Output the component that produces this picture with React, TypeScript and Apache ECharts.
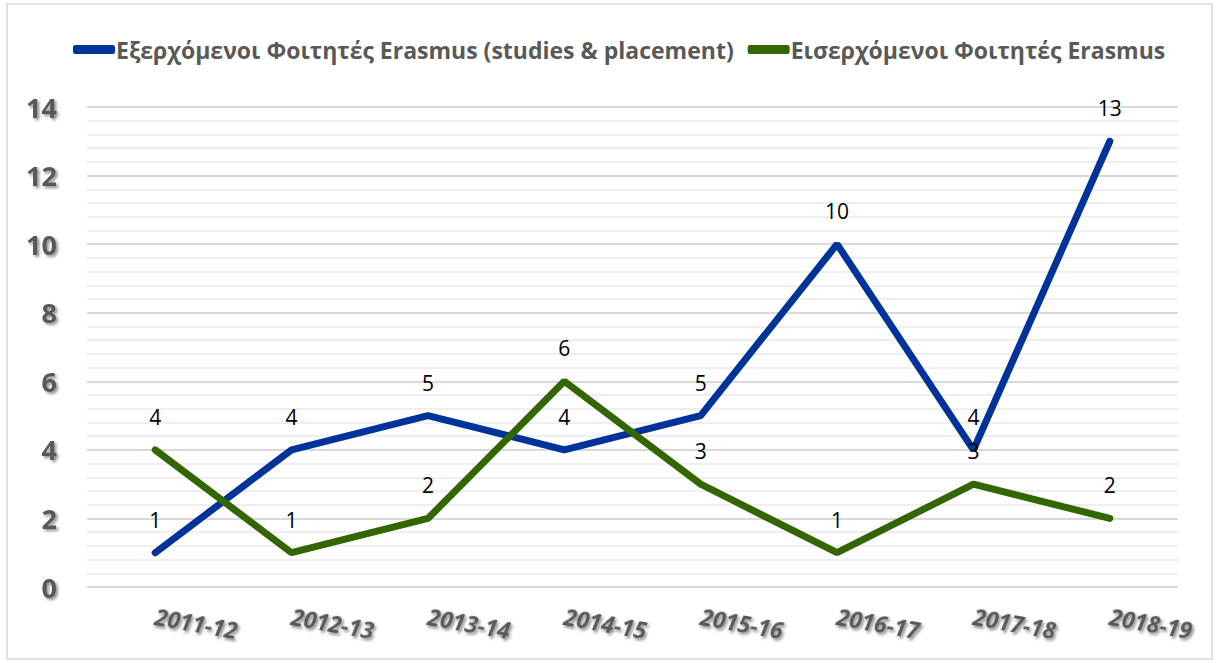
import React, { useEffect, useRef } from "react";
import * as echarts from "echarts";

const categories = ["2011-12", "2012-13", "2013-14", "2014-15", "2015-16", "2016-17", "2017-18", "2018-19"];
const outgoing = [1, 4, 5, 4, 5, 10, 4, 13];
const incoming = [4, 1, 2, 6, 3, 1, 3, 2];
const seriesNames = ["Εξερχόμενοι Φοιτητές Erasmus (studies & placement)", "Εισερχόμενοι Φοιτητές Erasmus"];

const FONT = "'Open Sans', sans-serif";
const shadow = {
  textShadowColor: "rgba(0,0,0,0.45)",
  textShadowBlur: 3,
  textShadowOffsetX: 2,
  textShadowOffsetY: 2,
};

export default function App() {
  const ref = useRef<HTMLDivElement>(null);
  useEffect(() => {
    document.body.style.margin = "0";
    const chart = echarts.init(ref.current!, null, { renderer: "svg" });
    const mkSeries = (name: string, data: number[], color: string) => ({
      name,
      type: "line",
      data,
      symbol: "circle",
      symbolSize: 1,
      itemStyle: { color },
      lineStyle: { color, width: 7, cap: "round" },
      label: {
        show: true,
        position: "top",
        distance: 22,
        color: "#000",
        fontSize: 21,
        fontFamily: FONT,
      },
    });
    chart.setOption({
      animation: false,
      backgroundColor: "#fff",
      legend: {
        left: 68,
        top: 33,
        itemWidth: 42,
        itemHeight: 9,
        itemGap: 14,
        icon: "roundRect",
        textStyle: { color: "#595959", fontSize: 23, fontWeight: "bold", fontFamily: FONT, padding: [0, 0, 0, -4] },
        data: seriesNames,
      },
      grid: { left: 87, right: 41, top: 107, bottom: 76, containLabel: false },
      xAxis: {
        type: "category",
        data: categories,
        boundaryGap: true,
        axisLine: { show: false },
        axisTick: { show: false },
        axisLabel: {
          rotate: -10,
          margin: 29,
          color: "#595959",
          fontSize: 23,
          fontWeight: "bold",
          fontStyle: "italic",
          fontFamily: FONT,
          ...shadow,
        },
      },
      yAxis: {
        type: "value",
        min: 0,
        max: 14,
        interval: 2,
        minorTick: { show: false, splitNumber: 5 },
        minorSplitLine: { show: true, lineStyle: { color: "#efefef", width: 2 } },
        splitLine: { show: true, lineStyle: { color: "#d9d9d9", width: 2 } },
        axisLine: { show: false },
        axisTick: { show: false },
        axisLabel: {
          margin: 30,
          color: "#595959",
          fontSize: 27,
          fontWeight: "bold",
          fontFamily: FONT,
          ...shadow,
        },
      },
      graphic: [
        {
          type: "rect",
          shape: { x: 7, y: 4, width: 1205, height: 655 },
          style: { fill: "none", stroke: "#d9d9d9", lineWidth: 1.5 },
          silent: true,
        },
      ],
      series: [mkSeries(seriesNames[0], outgoing, "#003399"), mkSeries(seriesNames[1], incoming, "#336600")],
    });
    return () => chart.dispose();
  }, []);
  return <div ref={ref} style={{ width: 1219, height: 663 }} />;
}
